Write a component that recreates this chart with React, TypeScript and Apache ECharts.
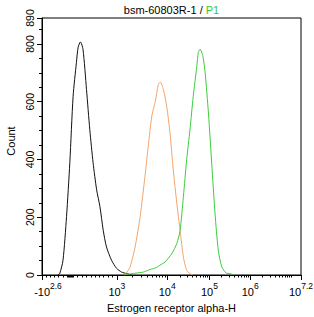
import React, { useEffect, useRef } from "react";
import * as echarts from "echarts";

// Display channel scale (0..1024, biexponential display like a flow cytometry plot)
const xMin = 0;
const xMax = 1024;

// Major decade tick positions (channel) and their labels
const majorTicks = [0, 296, 495, 662, 823, 1024];
const majorLabels = [
  ["-10", "2.6"],
  ["10", "3"],
  ["10", "4"],
  ["10", "5"],
  ["10", "6"],
  ["10", "7.2"],
];
// Decade boundaries for the log part of the axis (10^3 .. 10^7)
const decadeStarts = [296, 495, 662, 823];
const decadeEnds = [495, 662, 823, 986];
// Linear region minor ticks (near zero) in channels
const lowMinorTicks = [15, 32, 49, 66, 83, 100, 104, 108, 112, 116, 120, 124, 141, 158, 175, 193, 210, 227, 244, 261, 279];

// Y axis
const yMax = 890;
const yMajorTicks = [0, 200, 400, 600, 800, 890];

// Histograms: [channel, count]
const isotypeBlack: [number, number][] = [
  [62, 0], [70, 5], [83, 51], [97, 202], [110, 389], [123, 619], [136, 735], [143, 789],
  [152, 807], [162, 782], [176, 642], [189, 503], [202, 389], [216, 295], [229, 237],
  [242, 155], [255, 97], [275, 51], [295, 23], [315, 10], [334, 5], [355, 0],
];
const controlOrange: [number, number][] = [
  [324, 0], [332, 5], [348, 28], [368, 97], [388, 202], [407, 341], [420, 445], [434, 550],
  [447, 597], [460, 660], [468, 668], [480, 642], [493, 584], [506, 493], [519, 364],
  [533, 249], [546, 155], [559, 63], [572, 16], [585, 5], [597, 0],
];
const sampleGreen: [number, number][] = [
  [324, 0], [367, 6], [400, 10], [427, 19], [453, 26], [466, 34], [486, 45], [513, 74],
  [533, 109], [546, 155], [559, 271], [572, 399], [585, 503], [598, 619], [612, 723],
  [618, 770], [625, 782], [636, 758], [645, 700], [658, 561], [671, 387], [684, 214],
  [697, 86], [711, 28], [728, 7], [744, 5], [760, 0],
];

const titleMain = "bsm-60803R-1 / ";
const titleGate = "P1";
const xName = "Estrogen receptor alpha-H";
const yName = "Count";

const FONT = "'Liberation Sans', Arial, sans-serif";

function buildMinorTicks(): number[] {
  const out: number[] = [...lowMinorTicks];
  for (let i = 0; i < decadeStarts.length; i++) {
    const s = decadeStarts[i];
    const e = decadeEnds[i];
    for (let k = 2; k <= 9; k++) out.push(s + Math.log10(k) * (e - s));
  }
  out.push(986);
  return out;
}

export default function App() {
  const ref = useRef<HTMLDivElement>(null);
  useEffect(() => {
    document.body.style.margin = "0";
    if (!ref.current) return;
    const chart = echarts.init(ref.current, null, { renderer: "svg" });
    const minorTicks = buildMinorTicks();
    const labelFor = (v: number) => {
      const i = majorTicks.findIndex((t) => Math.abs(t - v) < 0.5);
      if (i < 0) return "";
      const [b, s] = majorLabels[i];
      return i === 0 ? `{bf|${b}}{s|${s}}` : `{b|${b}}{s|${s}}`;
    };
    const line = (data: [number, number][], color: string) => ({
      type: "line",
      data,
      showSymbol: false,
      smooth: 0.25,
      lineStyle: { color, width: 1 },
      xAxisIndex: 0,
      yAxisIndex: 0,
      z: 3,
    });
    chart.setOption({
      animation: false,
      textStyle: { fontFamily: FONT },
      grid: {
        left: 42,
        right: 13,
        top: 18,
        bottom: 42,
        show: true,
        borderColor: "#000",
        borderWidth: 1,
        containLabel: false,
        outerBoundsMode: "none",
      },
      graphic: [
        {
          type: "text",
          x: 171.5,
          y: 10,
          style: {
            text: `{a|${titleMain}}{g|${titleGate}}`,
            align: "center",
            verticalAlign: "middle",
            rich: {
              a: { fontSize: 11, fill: "#000", fontFamily: FONT },
              g: { fontSize: 11, fill: "#33cc33", fontFamily: FONT },
            },
          },
        },
      ],
      xAxis: [
        {
          type: "value",
          min: xMin,
          max: xMax,
          position: "bottom",
          name: xName,
          nameLocation: "middle",
          nameGap: 27,
          nameTextStyle: { fontSize: 11, color: "#000", fontFamily: FONT },
          axisLine: { show: true, lineStyle: { color: "#000", width: 1 } },
          axisTick: { show: true, customValues: majorTicks, length: 5, lineStyle: { color: "#000" } },
          axisLabel: {
            show: true,
            customValues: majorTicks,
            margin: 6,
            color: "#000",
            formatter: labelFor,
            rich: {
              b: { fontSize: 11, lineHeight: 16, verticalAlign: "bottom", color: "#000", fontFamily: FONT },
              bf: { fontSize: 11, lineHeight: 16, verticalAlign: "bottom", color: "#000", fontFamily: FONT, padding: [0, 0, 0, 12] },
              s: { fontSize: 8.5, lineHeight: 6, verticalAlign: "top", color: "#000", fontFamily: FONT },
            },
          },
          splitLine: { show: false },
        },
        {
          type: "value",
          min: xMin,
          max: xMax,
          position: "bottom",
          offset: 0,
          axisLine: { show: false },
          axisTick: { show: true, customValues: minorTicks, length: 2.5, lineStyle: { color: "#000" } },
          axisLabel: { show: false },
          splitLine: { show: false },
        },
      ],
      yAxis: [
        {
          type: "value",
          min: 0,
          max: yMax,
          position: "left",
          name: yName,
          nameLocation: "middle",
          nameGap: 25,
          nameTextStyle: { fontSize: 11, color: "#000", fontFamily: FONT, padding: [0, 0, 0, 11] },
          axisLine: { show: true, lineStyle: { color: "#000", width: 1 } },
          axisTick: { show: true, customValues: yMajorTicks, length: 5, lineStyle: { color: "#000" } },
          axisLabel: {
            show: true,
            customValues: yMajorTicks,
            rotate: 90,
            margin: 7,
            fontSize: 10.5,
            color: "#000",
            fontFamily: FONT,
          },
          splitLine: { show: false },
        },
        {
          type: "value",
          min: 0,
          max: yMax,
          interval: 50,
          position: "left",
          offset: 0,
          axisLine: { show: false },
          axisTick: { show: true, length: 3, lineStyle: { color: "#000" } },
          axisLabel: { show: false },
          splitLine: { show: false },
        },
      ],
      series: [
        line(isotypeBlack, "#111111"),
        line(controlOrange, "#f2a46c"),
        line(sampleGreen, "#3dcc3d"),
      ],
    });
    return () => chart.dispose();
  }, []);
  return <div ref={ref} style={{ width: 314, height: 317 }} />;
}
